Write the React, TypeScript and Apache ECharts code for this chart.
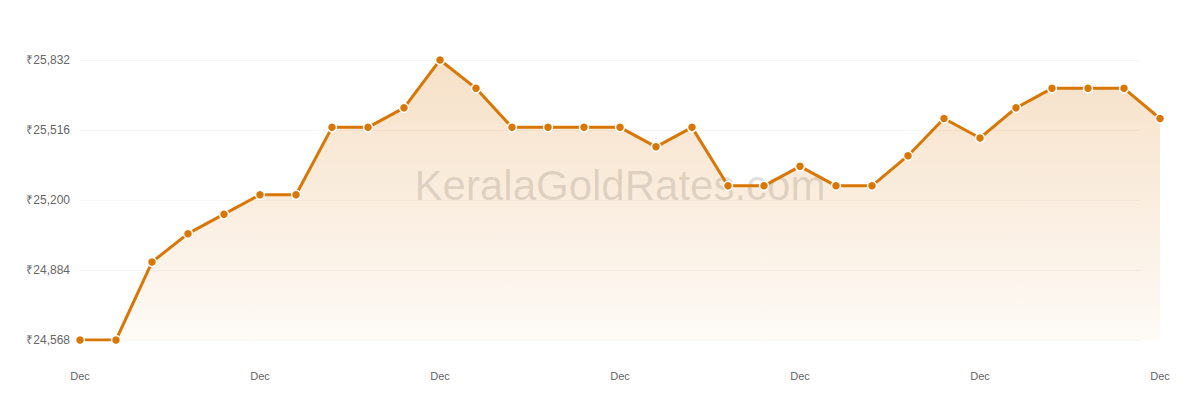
import { useRef, useEffect } from 'react'
import * as echarts from 'echarts'

// December daily rates, 31 days
const DAYS = Array.from({ length: 31 }, (_, i) => `Dec ${i + 1}`)
const RATES = [
  24568, 24568, 24920, 25048, 25136, 25224, 25224, 25528, 25528, 25616,
  25832, 25704, 25528, 25528, 25528, 25528, 25440, 25528, 25264, 25264,
  25352, 25264, 25264, 25400, 25568, 25480, 25616, 25704, 25704, 25704,
  25568,
]
const Y_MIN = 24568
const Y_MAX = 25832
const Y_STEP = 316

const LINE = '#d97706'
const LABEL = '#666666'
const FONT = '"Liberation Sans", Arial, sans-serif'

function buildOption(): echarts.EChartsOption {
  // the axis works in offsets from Y_MIN so ticks start at the lowest rate
  const offsets = RATES.map((v) => v - Y_MIN)
  return {
    animation: false,
    backgroundColor: '#ffffff',
    textStyle: { fontFamily: FONT },
    grid: [
      { left: 80, right: 40, top: 60, bottom: 60, containLabel: false },
      { left: 80, right: 60, top: 60, bottom: 60, containLabel: false },
    ],
    graphic: [
      {
        type: 'text',
        x: 620,
        y: 185,
        z: 1,
        silent: true,
        style: {
          text: 'KeralaGoldRates.com',
          fontSize: 42,
          fontFamily: FONT,
          fill: 'rgba(110, 110, 110, 0.22)',
          textAlign: 'center',
          textVerticalAlign: 'middle',
        },
      },
    ],
    xAxis: [
      {
        type: 'category',
        gridIndex: 0,
        data: DAYS,
        boundaryGap: false,
        axisLine: { show: false },
        axisTick: { show: false },
        axisLabel: {
          interval: 4,
          margin: 30,
          color: LABEL,
          fontSize: 11,
          fontFamily: FONT,
          formatter: (v: string) => v.split(' ')[0],
        },
        splitLine: { show: false },
      },
      { type: 'value', gridIndex: 1, min: 0, max: 1, show: false },
    ],
    yAxis: [
      {
        type: 'value',
        gridIndex: 0,
        min: 0,
        max: Y_MAX - Y_MIN,
        interval: Y_STEP,
        axisLine: { show: false },
        axisTick: { show: false },
        axisLabel: {
          margin: 10,
          color: LABEL,
          fontSize: 12,
          fontFamily: FONT,
          formatter: (v: number) => '₹' + (v + Y_MIN).toLocaleString('en-US'),
        },
        splitLine: { show: false },
      },
      {
        type: 'value',
        gridIndex: 1,
        min: 0,
        max: Y_MAX - Y_MIN,
        interval: Y_STEP,
        axisLine: { show: false },
        axisTick: { show: false },
        axisLabel: { show: false },
        splitLine: { lineStyle: { color: 'rgba(0,0,0,0.035)', width: 1 } },
      },
    ],
    series: [
      {
        type: 'line',
        xAxisIndex: 0,
        yAxisIndex: 0,
        data: offsets,
        z: 3,
        symbol: 'circle',
        symbolSize: 9,
        showAllSymbol: true,
        lineStyle: { color: LINE, width: 3 },
        itemStyle: { color: LINE, borderColor: '#ffffff', borderWidth: 1.5 },
        areaStyle: {
          color: new echarts.graphic.LinearGradient(0, 0, 0, 1, [
            { offset: 0, color: 'rgba(217,119,6,0.32)' },
            { offset: 1, color: 'rgba(217,119,6,0.05)' },
          ]),
        },
      },
    ],
  }
}

export default function App() {
  const ref = useRef<HTMLDivElement>(null)

  useEffect(() => {
    const el = ref.current
    if (!el) return
    const chart = echarts.init(el, null, { renderer: 'svg' })
    chart.setOption(buildOption())
    return () => chart.dispose()
  }, [])

  return (
    <div
      ref={ref}
      style={{ position: 'absolute', left: 0, top: 0, width: 1200, height: 400, background: '#fff' }}
    />
  )
}
